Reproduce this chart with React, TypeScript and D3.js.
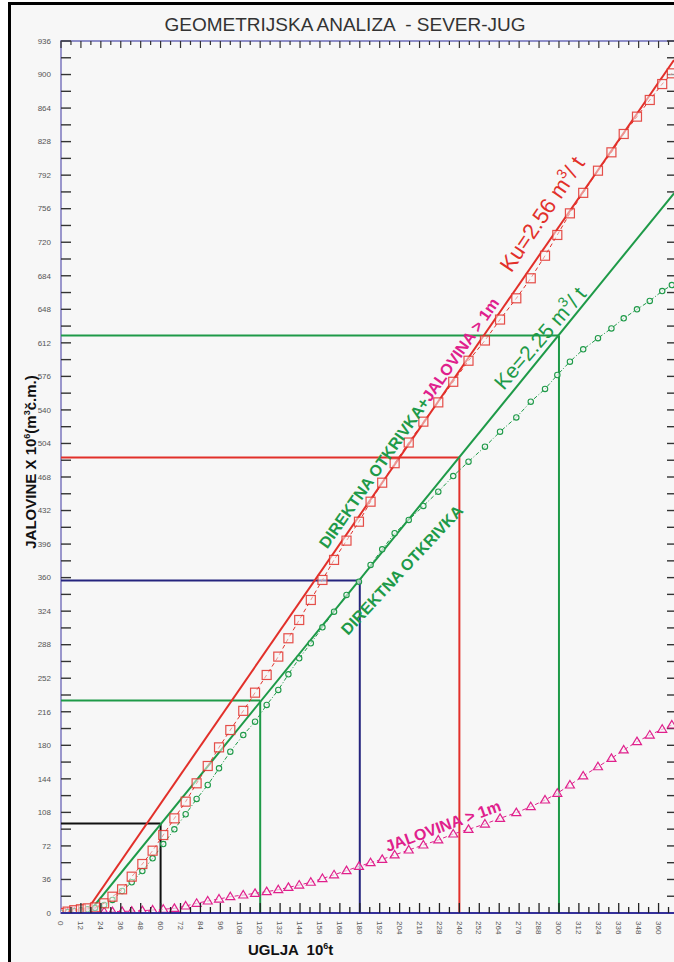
import React from "react";
import * as d3 from "d3";

// ---- data ----
const xGrid = [0, 4, 8, 12, 16, 20.5, 26, 31, 36.8, 42.6, 49, 55.2, 61.6, 68.3, 75.1, 81.7, 88.4, 95.2, 102, 109.8, 116.9, 123.9, 130.9, 137, 143.5, 150.5, 157.5, 164.5, 172, 179.5, 186.5, 193.5, 201, 209.5, 218.3, 227.3, 236.3, 245.5, 255.4, 264.5, 274.3, 283, 291.6, 299, 306.6, 314.6, 323.5, 331.6, 339, 347, 354.7, 362.2, 368];
const direktnaOtkrivka = [0, 1, 2, 3, 4, 5.5, 8.6, 14, 23.6, 33, 45, 58.7, 74, 89.8, 106, 122.4, 137.4, 155.3, 173.2, 191, 205.4, 223.3, 239.4, 256.2, 273.4, 289.5, 306.6, 323.4, 341.4, 355.6, 373.6, 390.4, 407.6, 421.9, 436.9, 452.3, 469, 484.5, 500.5, 516.6, 532, 548.8, 562.5, 577.5, 591.8, 605, 617, 627.5, 638.3, 648, 657, 667.6, 674];
const otkrivkaPlusJalovina = [0, 1.5, 3, 4, 5, 6, 10.4, 17.5, 25.4, 39, 52.6, 66.9, 83.7, 101.6, 119.5, 139.2, 157.8, 177.8, 196.4, 217, 236.5, 255.5, 275.2, 294.9, 314.5, 336, 357.5, 379, 399.7, 420, 441.5, 461.9, 482.8, 505, 527.4, 548.1, 570.2, 592.8, 614.5, 637, 659.8, 681.3, 705.5, 727.8, 751, 773, 796.8, 816.5, 836.2, 854.8, 872.7, 889.8, 901.3];
const jalovina1m = [0, 0.5, 0.8, 1, 1.2, 1.3, 1.4, 1.5, 1.7, 2, 2.5, 3.2, 4, 5, 7.5, 10.4, 12.9, 15, 17.5, 19.3, 21.1, 22.9, 25, 27.5, 30, 33, 37, 41, 45.5, 50, 54, 57.6, 62.3, 67.6, 73, 78.4, 84.8, 89.8, 95.5, 101.6, 107.7, 114.1, 121.3, 128.5, 137.4, 147.1, 157, 166, 175, 183.9, 191, 197.2, 201.8];

const kuLine = [[14.5, 0], [369.3, 915.5]];
const keLine = [[16.5, 0], [369.3, 772.5]];

const rectX = [60, 120, 180, 240, 300];
const rectY = [96, 228, 357, 489, 620];
const rectColors = ["#111111", "#1e9a48", "#25247e", "#e2302a", "#1e9a48"];

const xTickLabels = d3.range(0, 361, 12);
const yTickLabels = d3.range(0, 937, 36);

const RED = "#e2302a";
const GREEN = "#1e9a48";
const MAG = "#e0208c";
const FONT = "'Liberation Sans', Arial, sans-serif";
const PRE = { whiteSpace: "pre" as const };

export default function App() {
  const W = 674, H = 962;
  const x = d3.scaleLinear().domain([0, 369.3]).range([61, 674]);
  const y = d3.scaleLinear().domain([0, 936]).range([913, 41]);

  const line = d3.line<[number, number]>().x((d) => x(d[0])).y((d) => y(d[1]));
  const pts = (vals: number[]) => xGrid.map((v, i) => [v, vals[i]] as [number, number]);

  const sq = pts(otkrivkaPlusJalovina);
  const ci = pts(direktnaOtkrivka);
  const tr = pts(jalovina1m);

  const xMinor = d3.range(6, 370, 6);
  const yMinor = d3.range(18, 937, 18);
  const topTicks = d3.range(0, 370, 6);

  return (
    <svg width={W} height={H} style={{ position: "absolute", left: 0, top: 0, display: "block" }} fontFamily={FONT}>
      <rect x={0} y={0} width={W} height={H} fill="#ffffff" />
      <rect x={10} y={5} width={W - 10} height={H - 5} fill="#f7f7f7" />
      <line x1={10} y1={3.5} x2={W} y2={3.5} stroke="#000" strokeWidth={3} />
      <line x1={9.5} y1={2} x2={9.5} y2={H} stroke="#000" strokeWidth={3} />

      <text x={345} y={31} textAnchor="middle" fontSize={19} fill="#333" style={PRE} xmlSpace="preserve">GEOMETRIJSKA ANALIZA  - SEVER-JUG</text>

      <defs>
        <clipPath id="plotclip">
          <rect x={61} y={41} width={W - 61} height={913 - 41} />
        </clipPath>
      </defs>

      {/* axes */}
      <line x1={61} y1={41} x2={W} y2={41} stroke="#8e8ec8" strokeWidth={2} />
      <line x1={61} y1={40} x2={61} y2={914} stroke="#9a96cc" strokeWidth={2} />
      {topTicks.map((v) => (
        <line key={"tt" + v} x1={x(v)} x2={x(v)} y1={41} y2={41 + (v % 12 === 0 ? 7 : 4)} stroke="#333" strokeWidth={1.2} />
      ))}
      {yMinor.map((v) => (
        <line key={"ly" + v} x1={61} x2={71} y1={y(v)} y2={y(v)} stroke="#333" strokeWidth={1.4} />
      ))}
      {yMinor.map((v) => (
        <line key={"ry" + v} x1={W - 7} x2={W} y1={y(v)} y2={y(v)} stroke="#333" strokeWidth={1.4} />
      ))}
      {yTickLabels.map((v) => (
        <text key={"yl" + v} x={51} y={y(v)} dy="0.35em" textAnchor="end" fontSize={8} fill="#555">{v}</text>
      ))}
      {xTickLabels.map((v) => (
        <text key={"xl" + v} transform={`translate(${x(v)},${921}) rotate(90)`} dy="0.35em" textAnchor="start" fontSize={8} fill="#555">{v}</text>
      ))}

      {/* reference rectangles */}
      {rectX.map((rx, i) => (
        <g key={"r" + i} stroke={rectColors[i]} strokeWidth={2} fill="none">
          <line x1={61} y1={y(rectY[i])} x2={x(rx)} y2={y(rectY[i])} />
          <line x1={x(rx)} y1={913} x2={x(rx)} y2={y(rectY[i])} />
        </g>
      ))}

      <g clipPath="url(#plotclip)">
        {/* straight coefficient lines */}
        <path d={line(kuLine as [number, number][]) || ""} stroke={RED} strokeWidth={2} fill="none" />
        <path d={line(keLine as [number, number][]) || ""} stroke={GREEN} strokeWidth={2} fill="none" />

        {/* triangles series */}
        <path d={line(tr) || ""} stroke={MAG} strokeWidth={1} strokeDasharray="4 3" fill="none" />
        {tr.map((d, i) => {
          const cx = x(d[0]), cy = y(d[1]);
          return <path key={"t" + i} d={`M${cx},${cy - 4.5}L${cx + 4.5},${cy + 3}L${cx - 4.5},${cy + 3}Z`} fill="#f7f7f7" fillOpacity={0.6} stroke={MAG} strokeWidth={1.2} />;
        })}

        {/* circles series */}
        <path d={line(ci) || ""} stroke={GREEN} strokeWidth={1} strokeDasharray="4 2 1 2" fill="none" />
        {ci.map((d, i) => (
          <circle key={"c" + i} cx={x(d[0])} cy={y(d[1])} r={2.7} fill="#f7f7f7" fillOpacity={0.6} stroke={GREEN} strokeWidth={1.1} />
        ))}

        {/* squares series */}
        <path d={line(sq) || ""} stroke={RED} strokeWidth={1} strokeDasharray="4 3" fill="none" />
        {sq.map((d, i) => (
          <rect key={"s" + i} x={x(d[0]) - 4.5} y={y(d[1]) - 4.5} width={9} height={9} fill="#f7f7f7" fillOpacity={0.5} stroke={RED} strokeOpacity={0.85} strokeWidth={1.2} />
        ))}
      </g>

      {/* bottom axis line drawn on top */}
      <line x1={61} y1={913} x2={W} y2={913} stroke="#34309a" strokeWidth={2} />
      {xMinor.map((v) => (
        <line key={"bx" + v} x1={x(v)} x2={x(v)} y1={913} y2={913 - (v % 12 === 0 ? 10 : 6)} stroke="#222" strokeWidth={1.3} />
      ))}

      {/* annotations */}
      <text transform="translate(542,214) rotate(-56)" textAnchor="middle" dy="0.35em" fontSize={22} fill={RED}>
        Ku=2.56 m<tspan fontSize={14} dy="-9">3</tspan><tspan dy="9">/ t</tspan>
      </text>
      <text transform="translate(540,338) rotate(-49)" textAnchor="middle" dy="0.35em" fontSize={21} fill={GREEN}>
        Ke=2.25 m<tspan fontSize={14} dy="-9">3</tspan><tspan dy="9">/ t</tspan>
      </text>
      <text transform="translate(409,423) rotate(-55)" textAnchor="middle" dy="0.35em" fontSize={16} fontWeight="bold" fill={GREEN}>
        DIREKTNA OTKRIVKA+<tspan fill={MAG}>JALOVINA &gt; 1m</tspan>
      </text>
      <text transform="translate(402,570) rotate(-47)" textAnchor="middle" dy="0.35em" fontSize={16} fontWeight="bold" fill={GREEN}>
        DIREKTNA OTKRIVKA
      </text>
      <text transform="translate(443,826) rotate(-20)" textAnchor="middle" dy="0.35em" fontSize={16} fontWeight="bold" fill={MAG}>
        JALOVINA &gt; 1m
      </text>

      {/* axis titles */}
      <text transform="translate(36,462) rotate(-90)" textAnchor="middle" fontSize={15} fontWeight="bold" fill="#111">
        JALOVINE X 10<tspan fontSize={9} dy="-6">6</tspan><tspan dy="6">(m</tspan><tspan fontSize={9} dy="-6">3</tspan><tspan dy="6">č.m.)</tspan>
      </text>
      <text x={248} y={955} fontSize={15} fontWeight="bold" fill="#111" style={PRE} xmlSpace="preserve">
        UGLJA  10<tspan fontSize={9} dy="-6">6</tspan><tspan dy="6">t</tspan>
      </text>
    </svg>
  );
}
